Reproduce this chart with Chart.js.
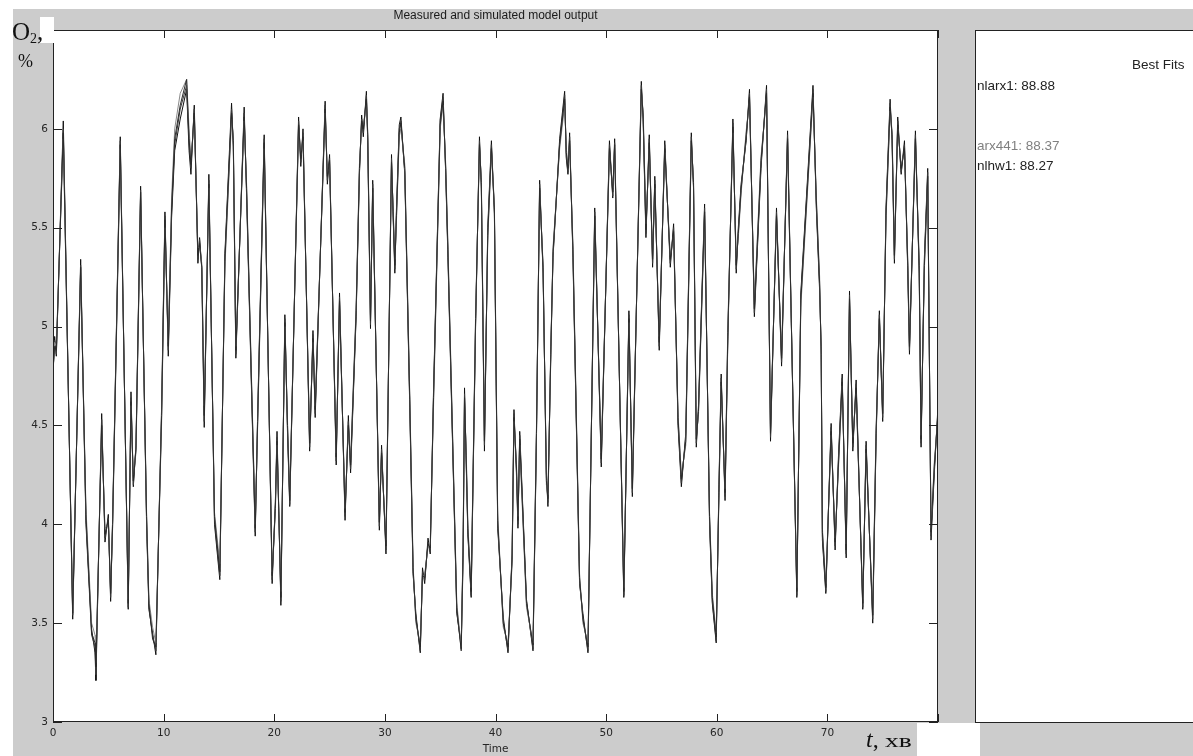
<!DOCTYPE html>
<html>
<head>
<meta charset="utf-8">
<title>Measured and simulated model output</title>
<script src="https://cdn.jsdelivr.net/npm/chart.js@4.4.1/dist/chart.umd.min.js"></script>
<style>
    html, body { margin: 0; padding: 0; background: #fff; }
    body { width: 1193px; height: 756px; position: relative; overflow: hidden; font-family: "Liberation Sans", Arial, sans-serif; }
    #figure { position: absolute; left: 13px; top: 9px; right: 0; bottom: 0; background: #cccccc; }
    #chartBox { position: absolute; left: 0; top: 0; width: 1193px; height: 756px; }
    #fitsPanel { position: absolute; left: 975px; top: 30px; width: 240px; height: 693px; box-sizing: border-box; background: #fff; border: 1px solid #222; }
    .fit { position: absolute; font-size: 13.5px; line-height: 16px; color: #222; white-space: nowrap; }
    .serif { position: absolute; font-family: "Liberation Serif", "Times New Roman", serif; color: #111; white-space: nowrap; }
    .patch { position: absolute; background: #fff; }
</style>
</head>
<body>
<div id="figure"></div>
<div id="fitsPanel"></div>
<div id="chartBox"><canvas id="outputChart" width="1193" height="756"></canvas></div>

<div class="fit" style="left:1132px; top:57px;">Best Fits</div>
<div class="fit" style="left:977px; top:78px;">nlarx1: 88.88</div>
<div class="fit" style="left:977px; top:138px; color:#808080;">arx441: 88.37</div>
<div class="fit" style="left:977px; top:158px;">nlhw1: 88.27</div>

<div class="patch" style="left:40px; top:17px; width:14px; height:26px;"></div>
<div class="patch" style="left:917px; top:723px; width:63px; height:33px;"></div>
<div class="serif" style="left:12px; top:20px; font-size:25px; line-height:24px;">O<span style="font-size:14px; position:relative; top:3px;">2</span>,</div>
<div class="serif" style="left:18px; top:52px; font-size:18px; line-height:18px;">%</div>
<div class="serif" style="left:866px; top:727px; font-size:24px; line-height:24px;"><i>t</i>, <span style="display:inline-block; font-size:19px; transform:scaleX(1.45); transform-origin:left;">хв</span></div>

<script>
// Time axis (reading points taken at peaks, troughs and kinks of the trace)
const times = [
    0, 0.15, 0.3, 0.93, 1.78, 2.5, 2.98, 3.49, 3.8, 3.88,
    4.4, 4.7, 5.0, 5.21, 5.39, 6.08, 6.8, 7.05, 7.26, 7.5,
    7.92, 8.46, 8.67, 9.0, 9.3, 9.82, 10.12, 10.42, 10.72, 11.0,
    11.5, 12.08, 12.3, 12.47, 12.77, 13.1, 13.25, 13.45, 13.67, 14.09,
    14.6, 15.08, 15.54, 16.14, 16.3, 16.53, 17.28, 17.5, 18.28, 18.5,
    19.09, 19.81, 20.1, 20.25, 20.6, 20.96, 21.2, 21.4, 22.2, 22.4,
    22.6, 23.2, 23.5, 23.7, 24.6, 24.8, 25.0, 25.6, 25.9, 26.4,
    26.7, 26.9, 27.4, 27.7, 27.9, 28.05, 28.33, 28.45, 28.7, 28.9,
    29.5, 29.7, 30.1, 30.6, 30.75, 30.9, 31.05, 31.3, 31.45, 31.8,
    32.25, 32.55, 32.8, 33.2, 33.4, 33.6, 33.9, 34.1, 34.4, 35.0,
    35.26, 35.5, 35.7, 36.5, 36.9, 37.07, 37.2, 37.35, 37.5, 37.8,
    38.2, 38.55, 38.72, 39.0, 39.3, 39.63, 39.9, 40.2, 40.7, 41.13,
    41.5, 41.67, 41.89, 42.03, 42.19, 42.8, 43.39, 43.7, 43.99, 44.3,
    44.6, 44.74, 45.0, 45.2, 45.8, 46.25, 46.4, 46.55, 46.7, 47.0,
    47.6, 47.9, 48.36, 48.97, 49.56, 50.3, 50.6, 50.77, 51.6, 52.06,
    52.37, 53.18, 53.35, 53.6, 53.9, 54.2, 54.4, 54.8, 55.3, 55.8,
    56.1, 56.5, 56.8, 57.2, 57.7, 57.9, 58.15, 58.35, 58.9, 59.35,
    59.6, 59.95, 60.2, 60.4, 60.75, 61.0, 61.46, 61.76, 61.95, 62.2,
    62.66, 62.96, 63.4, 64.0, 64.5, 64.86, 65.4, 65.86, 66.4, 67.24,
    67.6, 68.7, 69.0, 69.3, 69.44, 69.55, 69.86, 70.34, 70.7, 71.0,
    71.34, 71.7, 72.0, 72.3, 72.6, 73.2, 73.5, 74.1, 74.4, 74.7,
    75.0, 75.3, 75.67, 75.85, 76.06, 76.36, 76.67, 76.97, 77.27, 77.42,
    77.96, 78.3, 78.47, 78.77, 79.07, 79.37, 79.67, 80.0
];

// Measured O2, %
const measured = [
    4.75, 4.95, 4.85, 6.04, 3.52, 5.34, 4.02, 3.47, 3.35, 3.21,
    4.56, 3.91, 4.05, 3.61, 4.03, 5.96, 3.57, 4.67, 4.19, 4.40,
    5.71, 4.0, 3.57, 3.45, 3.34, 4.6, 5.58, 4.85, 5.55, 5.89,
    6.05, 6.2, 5.89, 5.77, 6.12, 5.32, 5.45, 5.29, 4.49, 5.77,
    4.0, 3.72, 5.37, 6.13, 5.91, 4.84, 6.11, 5.66, 3.94, 4.56,
    5.97, 3.70, 4.11, 4.47, 3.59, 5.06, 4.46, 4.09, 6.06, 5.81,
    6.0, 4.37, 4.98, 4.54, 6.14, 5.72, 5.87, 4.3, 5.17, 4.02,
    4.55, 4.26, 5.05, 5.77, 6.07, 5.96, 6.19, 5.94, 4.99, 5.74,
    3.97, 4.4, 3.85, 5.87, 5.55, 5.27, 5.6, 6.02, 6.06, 5.77,
    4.59, 3.75, 3.55, 3.35, 3.78, 3.7, 3.93, 3.85, 4.68, 6.05,
    6.18, 5.77, 5.35, 3.55, 3.39, 3.88, 4.69, 4.31, 3.95, 3.63,
    5.0, 5.96, 5.7, 4.37, 5.5, 5.94, 5.57, 3.98, 3.53, 3.35,
    3.85, 4.58, 4.26, 3.98, 4.47, 3.62, 3.36, 4.42, 5.74, 5.27,
    4.26, 4.09, 4.9, 5.35, 5.95, 6.19, 5.85, 5.77, 5.98, 5.35,
    3.7, 3.55, 3.35, 5.6, 4.29, 5.94, 5.65, 5.95, 3.63, 5.08,
    4.14, 6.24, 6.04, 5.45, 5.97, 5.3, 5.76, 4.88, 5.94, 5.3,
    5.52, 4.5, 4.19, 4.46, 5.98, 5.7, 4.39, 4.6, 5.62, 4.0,
    3.6, 3.40, 4.2, 4.76, 4.12, 4.93, 6.05, 5.27, 5.5, 5.72,
    5.94, 6.2, 5.05, 5.8, 6.22, 4.42, 5.6, 4.8, 5.99, 3.63,
    5.17, 6.22, 5.6, 5.18, 4.9, 3.92, 3.65, 4.51, 3.87, 4.34,
    4.76, 3.83, 5.18, 4.37, 4.73, 3.57, 4.42, 3.5, 4.42, 5.08,
    4.52, 5.6, 6.15, 5.94, 5.32, 6.06, 5.77, 5.94, 5.27, 4.86,
    5.99, 5.27, 4.39, 5.35, 5.8, 3.92, 4.26, 4.6
];

// Simulated outputs of the three models
const nlarx1 = [
    4.78, 4.9, 4.88, 5.98, 3.55, 5.3, 4.05, 3.45, 3.4, 3.28,
    4.5, 3.95, 4.02, 3.65, 4.0, 5.92, 3.6, 4.62, 4.22, 4.38,
    5.68, 4.04, 3.6, 3.42, 3.38, 4.55, 5.54, 4.9, 5.6, 5.95,
    6.12, 6.25, 5.95, 5.82, 6.08, 5.36, 5.42, 5.3, 4.55, 5.72,
    4.04, 3.76, 5.33, 6.08, 5.94, 4.88, 6.06, 5.7, 3.98, 4.52,
    5.93, 3.74, 4.08, 4.42, 3.63, 5.02, 4.5, 4.12, 6.02, 5.85,
    5.96, 4.41, 4.94, 4.58, 6.1, 5.76, 5.84, 4.34, 5.13, 4.06,
    4.5, 4.3, 5.08, 5.8, 6.04, 6.0, 6.15, 5.97, 5.03, 5.7,
    4.01, 4.36, 3.89, 5.83, 5.58, 5.31, 5.56, 5.98, 6.03, 5.8,
    4.63, 3.78, 3.52, 3.38, 3.74, 3.73, 3.9, 3.88, 4.64, 6.02,
    6.14, 5.8, 5.39, 3.58, 3.36, 3.84, 4.64, 4.35, 3.98, 3.66,
    5.04, 5.92, 5.73, 4.42, 5.46, 5.9, 5.6, 4.02, 3.5, 3.38,
    3.82, 4.54, 4.3, 4.02, 4.43, 3.6, 3.39, 4.46, 5.7, 5.3,
    4.22, 4.13, 4.86, 5.38, 5.92, 6.15, 5.88, 5.8, 5.94, 5.39,
    3.73, 3.52, 3.38, 5.56, 4.33, 5.9, 5.68, 5.92, 3.66, 5.04,
    4.18, 6.2, 6.07, 5.49, 5.93, 5.34, 5.72, 4.92, 5.9, 5.34,
    5.48, 4.54, 4.23, 4.42, 5.94, 5.73, 4.43, 4.57, 5.58, 4.04,
    3.63, 3.43, 4.16, 4.72, 4.16, 4.97, 6.01, 5.31, 5.47, 5.69,
    5.97, 6.16, 5.09, 5.84, 6.18, 4.46, 5.56, 4.84, 5.95, 3.66,
    5.13, 6.18, 5.64, 5.22, 4.86, 3.96, 3.68, 4.47, 3.91, 4.3,
    4.72, 3.87, 5.14, 4.41, 4.69, 3.6, 4.38, 3.54, 4.46, 5.04,
    4.56, 5.56, 6.11, 5.97, 5.36, 6.02, 5.8, 5.9, 5.31, 4.9,
    5.95, 5.31, 4.43, 5.31, 5.76, 3.96, 4.3, 4.56
];

const arx441 = [
    4.8, 4.92, 4.9, 5.95, 3.58, 5.28, 4.08, 3.5, 3.44, 3.3,
    4.48, 3.98, 4.0, 3.68, 3.98, 5.9, 3.62, 4.6, 4.25, 4.36,
    5.65, 4.06, 3.62, 3.48, 3.4, 4.52, 5.5, 4.92, 5.65, 6.0,
    6.18, 6.25, 6.0, 5.85, 6.05, 5.4, 5.4, 5.32, 4.6, 5.7,
    4.06, 3.8, 5.3, 6.05, 5.96, 4.9, 6.04, 5.72, 4.0, 4.5,
    5.9, 3.76, 4.06, 4.4, 3.66, 5.0, 4.52, 4.15, 6.0, 5.87,
    5.94, 4.44, 4.92, 4.6, 6.08, 5.78, 5.82, 4.36, 5.1, 4.08,
    4.48, 4.32, 5.1, 5.82, 6.02, 6.02, 6.12, 5.99, 5.06, 5.68,
    4.03, 4.34, 3.92, 5.8, 5.6, 5.34, 5.54, 5.96, 6.0, 5.82,
    4.66, 3.8, 3.5, 3.4, 3.72, 3.75, 3.88, 3.9, 4.6, 6.0,
    6.12, 5.82, 5.42, 3.6, 3.38, 3.8, 4.6, 4.38, 4.0, 3.68,
    5.06, 5.9, 5.75, 4.45, 5.44, 5.88, 5.62, 4.05, 3.48, 3.4,
    3.8, 4.52, 4.32, 4.04, 4.4, 3.58, 3.4, 4.48, 5.68, 5.32,
    4.2, 4.15, 4.84, 5.4, 5.9, 6.12, 5.9, 5.82, 5.92, 5.42,
    3.75, 3.5, 3.4, 5.54, 4.36, 5.88, 5.7, 5.9, 3.68, 5.02,
    4.2, 6.18, 6.09, 5.52, 5.9, 5.36, 5.7, 4.95, 5.88, 5.36,
    5.46, 4.56, 4.25, 4.4, 5.92, 5.75, 4.45, 4.55, 5.56, 4.06,
    3.65, 3.45, 4.14, 4.7, 4.18, 5.0, 5.98, 5.34, 5.45, 5.67,
    5.99, 6.14, 5.12, 5.86, 6.16, 4.49, 5.54, 4.87, 5.93, 3.68,
    5.1, 6.16, 5.66, 5.25, 4.84, 3.98, 3.7, 4.45, 3.93, 4.28,
    4.7, 3.9, 5.1, 4.44, 4.66, 3.62, 4.36, 3.56, 4.48, 5.02,
    4.58, 5.54, 6.09, 5.99, 5.38, 6.0, 5.82, 5.88, 5.34, 4.92,
    5.93, 5.34, 4.45, 5.29, 5.74, 3.98, 4.32, 4.54
];

const nlhw1 = [
    4.77, 4.93, 4.86, 6.0, 3.54, 5.31, 4.0, 3.44, 3.38, 3.24,
    4.53, 3.93, 4.03, 3.63, 4.02, 5.94, 3.58, 4.64, 4.2, 4.39,
    5.69, 4.02, 3.58, 3.44, 3.36, 4.57, 5.56, 4.88, 5.58, 5.92,
    6.1, 6.22, 5.93, 5.8, 6.1, 5.34, 5.44, 5.3, 4.52, 5.74,
    4.02, 3.74, 5.35, 6.1, 5.92, 4.86, 6.08, 5.68, 3.96, 4.54,
    5.95, 3.72, 4.1, 4.44, 3.61, 5.04, 4.48, 4.1, 6.04, 5.83,
    5.98, 4.39, 4.96, 4.56, 6.12, 5.74, 5.85, 4.32, 5.15, 4.04,
    4.52, 4.28, 5.06, 5.78, 6.05, 5.98, 6.17, 5.95, 5.01, 5.72,
    3.99, 4.38, 3.87, 5.85, 5.56, 5.29, 5.58, 6.0, 6.04, 5.78,
    4.61, 3.76, 3.53, 3.36, 3.76, 3.72, 3.91, 3.86, 4.66, 6.04,
    6.16, 5.78, 5.37, 3.56, 3.37, 3.86, 4.66, 4.33, 3.96, 3.64,
    5.02, 5.94, 5.72, 4.4, 5.48, 5.92, 5.58, 4.0, 3.51, 3.36,
    3.84, 4.56, 4.28, 4.0, 4.45, 3.61, 3.37, 4.44, 5.72, 5.29,
    4.24, 4.11, 4.88, 5.36, 5.93, 6.17, 5.86, 5.78, 5.96, 5.37,
    3.71, 3.53, 3.36, 5.58, 4.31, 5.92, 5.66, 5.93, 3.64, 5.06,
    4.16, 6.22, 6.05, 5.47, 5.95, 5.32, 5.74, 4.9, 5.92, 5.32,
    5.5, 4.52, 4.21, 4.44, 5.96, 5.71, 4.41, 4.58, 5.6, 4.02,
    3.61, 3.41, 4.18, 4.74, 4.14, 4.95, 6.03, 5.29, 5.48, 5.7,
    5.95, 6.18, 5.07, 5.82, 6.2, 4.44, 5.58, 4.82, 5.97, 3.64,
    5.15, 6.2, 5.62, 5.2, 4.88, 3.94, 3.66, 4.49, 3.89, 4.32,
    4.74, 3.85, 5.16, 4.39, 4.71, 3.58, 4.4, 3.52, 4.44, 5.06,
    4.54, 5.58, 6.13, 5.95, 5.34, 6.04, 5.78, 5.92, 5.29, 4.88,
    5.97, 5.29, 4.41, 5.33, 5.78, 3.94, 4.28, 4.58
];

const seriesNames = ['nlarx1', 'arx441', 'nlhw1', 'Measured'];
const seriesColors = ['#2a2a2a', '#8a8a8a', '#3a3a3a', '#111111'];

const xTickStep = 10;
const yTickStep = 0.5;
const chartTitle = 'Measured and simulated model output';
const xTitle = 'Time';

function toPoints(values) {
    return times.map((t, i) => ({ x: t, y: values[i] }));
}

// Draws the white axes box, the inward MATLAB style ticks and the title
const axesFrame = {
    id: 'axesFrame',
    beforeDraw(chart) {
        const { ctx, chartArea: a } = chart;
        ctx.save();
        ctx.fillStyle = '#ffffff';
        ctx.fillRect(a.left, a.top, a.right - a.left, a.bottom - a.top);
        ctx.restore();
    },
    afterDatasetsDraw(chart) {
        const { ctx, chartArea: a, scales } = chart;
        ctx.save();
        ctx.strokeStyle = '#222';
        ctx.lineWidth = 1;
        ctx.strokeRect(a.left + 0.5, a.top + 0.5, a.right - a.left - 1, a.bottom - a.top - 1);

        ctx.beginPath();
        scales.x.ticks.forEach(t => {
            const px = Math.round(scales.x.getPixelForValue(t.value)) + 0.5;
            ctx.moveTo(px, a.bottom);
            ctx.lineTo(px, a.bottom - 8);
            ctx.moveTo(px, a.top);
            ctx.lineTo(px, a.top + 8);
        });
        scales.y.ticks.forEach(t => {
            const py = Math.round(scales.y.getPixelForValue(t.value)) + 0.5;
            ctx.moveTo(a.left, py);
            ctx.lineTo(a.left + 9, py);
            ctx.moveTo(a.right, py);
            ctx.lineTo(a.right - 9, py);
        });
        ctx.stroke();

        ctx.fillStyle = '#1a1a1a';
        ctx.font = '12px "Liberation Sans", Arial, sans-serif';
        ctx.textAlign = 'center';
        ctx.textBaseline = 'middle';
        ctx.fillText(chartTitle, (a.left + a.right) / 2, 16);
        ctx.restore();
    }
};

const tickFont = { family: '"DejaVu Sans", sans-serif', size: 10.5 };

const outputChart = new Chart(document.getElementById('outputChart').getContext('2d'), {
    type: 'line',
    data: {
        datasets: [nlarx1, arx441, nlhw1, measured].map((values, i) => ({
            label: seriesNames[i],
            data: toPoints(values),
            borderColor: seriesColors[i],
            borderWidth: 1,
            pointRadius: 0,
            fill: false,
            tension: 0
        }))
    },
    options: {
        responsive: false,
        animation: false,
        devicePixelRatio: 1,
        layout: { padding: { left: 0, top: 30, right: 255, bottom: 0 } },
        scales: {
            x: {
                type: 'linear',
                min: 0,
                max: 80,
                afterFit: scale => { scale.height = 34; },
                grid: { display: false, drawTicks: false },
                border: { display: false },
                ticks: {
                    stepSize: xTickStep,
                    autoSkip: false,
                    maxRotation: 0,
                    padding: 5,
                    color: '#262626',
                    font: tickFont,
                    callback: v => (v === 80 ? '' : String(v))
                },
                title: {
                    display: true,
                    text: xTitle,
                    color: '#262626',
                    font: tickFont,
                    padding: { top: 0, bottom: 0 }
                }
            },
            y: {
                min: 3,
                max: 6.5,
                afterFit: scale => { scale.width = 53; },
                grid: { display: false, drawTicks: false },
                border: { display: false },
                ticks: {
                    stepSize: yTickStep,
                    autoSkip: false,
                    padding: 5,
                    color: '#262626',
                    font: tickFont,
                    callback: v => (v === 6.5 ? '' : String(v))
                }
            }
        },
        plugins: {
            legend: { display: false },
            title: { display: false },
            tooltip: { enabled: false }
        }
    },
    plugins: [axesFrame]
});
</script>
</body>
</html>
